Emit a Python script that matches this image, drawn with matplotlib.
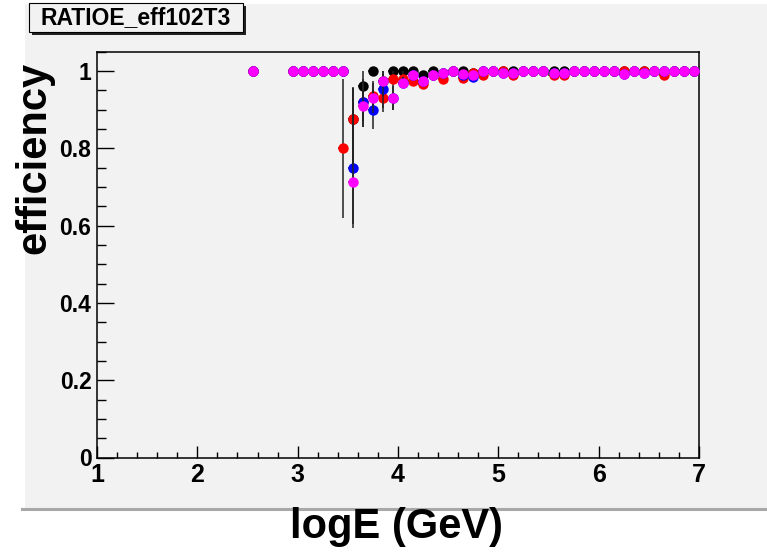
import matplotlib
matplotlib.use("Agg")
import matplotlib.pyplot as plt
from matplotlib.patches import Rectangle
from matplotlib.lines import Line2D
from matplotlib.ticker import MultipleLocator

# bin centres in logE (GeV)
x = [2.55, 2.95, 3.05, 3.15, 3.25, 3.35, 3.45, 3.55, 3.65, 3.75, 3.85,
     3.95, 4.05, 4.15, 4.25, 4.35, 4.45, 4.55, 4.65, 4.75, 4.85, 4.95,
     5.05, 5.15, 5.25, 5.35, 5.45, 5.55, 5.65, 5.75, 5.85, 5.95, 6.05,
     6.15, 6.25, 6.35, 6.45, 6.55, 6.65, 6.75, 6.85, 6.95]

eff_black = [1, 1, 1, 1, 1, 1, 1, 0.875, 0.96, 1.0, 0.975,
             1.0, 1.0, 1.0, 0.99, 1.0, 0.995, 1, 1, 0.995, 1, 1,
             1, 1, 1, 1, 1, 1, 1, 1, 1, 1, 1,
             1, 1, 1, 1, 1, 1, 1, 1, 1]
eff_red = [1, 1, 1, 1, 1, 1, 0.80, 0.875, 0.92, 0.935, 0.93,
           0.98, 0.98, 0.975, 0.967, 0.99, 0.978, 1, 0.983, 0.995, 0.99, 1,
           1, 0.99, 1, 1, 1, 0.99, 0.99, 1, 1, 1, 1,
           1, 1, 1, 1, 1, 0.99, 1, 1, 1]
eff_blue = [1, 1, 1, 1, 1, 1, 1, 0.75, 0.92, 0.90, 0.953,
            0.93, 0.97, 0.99, 0.974, 0.99, 0.995, 1, 0.99, 0.985, 1, 1,
            0.995, 0.995, 1, 1, 1, 0.995, 0.995, 1, 1, 1, 1,
            1, 0.991, 1, 0.995, 1, 1, 1, 1, 1]
eff_magenta = [1, 1, 1, 1, 1, 1, 1, 0.714, 0.91, 0.93, 0.975,
               0.93, 0.97, 0.99, 0.974, 0.99, 0.995, 1, 0.991, 0.99, 1, 1,
               0.995, 0.995, 1, 1, 1, 0.995, 0.995, 1, 1, 1, 1,
               1, 0.991, 1, 0.995, 1, 1, 1, 1, 1]

# asymmetric errors (low, high); only the visible ones are non-zero
n = len(x)
err_black = ([0]*7 + [0.12, 0.06, 0, 0.03, 0, 0] + [0]*(n-13),
             [0]*7 + [0.08, 0.04, 0, 0.025, 0, 0] + [0]*(n-13))
err_red = ([0]*6 + [0.18, 0.12, 0.066, 0.04, 0.037, 0.02, 0.024] + [0]*(n-13),
           [0]*6 + [0.18, 0.08, 0.06, 0.04, 0.04, 0.02, 0.02] + [0]*(n-13))
err_blue = ([0]*7 + [0.156, 0.05, 0.05, 0.05, 0.03, 0.014] + [0]*(n-13),
            [0]*7 + [0.208, 0.05, 0.05, 0.04, 0.03, 0.014] + [0]*(n-13))
err_magenta = ([0]*7 + [0.11, 0.055, 0.04, 0.04, 0.031, 0.014] + [0]*(n-13),
               [0]*7 + [0.2, 0.06, 0.04, 0.025, 0.03, 0.014] + [0]*(n-13))

series = [(eff_black, err_black, "#000000"),
          (eff_red, err_red, "#ff0000"),
          (eff_blue, err_blue, "#0000ff"),
          (eff_magenta, err_magenta, "#ff00ff")]

W, H = 767, 553
PAD = "#f2f2f2"
plt.rcParams["font.family"] = ["Liberation Sans", "DejaVu Sans"]

fig = plt.figure(figsize=(W/100, H/100), dpi=100)
fig.patch.set_facecolor("white")

# canvas pad + bottom bevel
fig.patches.append(Rectangle((25/W, 1-507.5/H), 1-25/W, (507.5-3.5)/H,
                             transform=fig.transFigure, fc=PAD, ec="none",
                             zorder=-2))
fig.lines.append(Line2D([22/W, 1], [1-509/H, 1-509/H], color="#a8a8a8",
                        lw=2.2, transform=fig.transFigure, zorder=-1))

ax = fig.add_axes([97/W, 1-457.5/H, (699-97)/W, (457.5-51.5)/H])
ax.set_zorder(2)
ax.set_facecolor(PAD)
for i, (ys, (lo, hi), col) in enumerate(series):
    ax.errorbar(x, ys, yerr=[lo, hi], xerr=0.05, fmt="o", color=col,
                ms=7.5, mec="none", ecolor="#222222", elinewidth=1.1,
                capsize=0, zorder=3+i, clip_on=False)

ax.set_xlim(1, 7)
ax.set_ylim(0, 1.0504)
ax.set_xticks([1, 2, 3, 4, 5, 6, 7])
ax.xaxis.set_minor_locator(MultipleLocator(0.2))
ax.set_yticks([0, 0.2, 0.4, 0.6, 0.8, 1.0])
ax.yaxis.set_minor_locator(MultipleLocator(0.05))
ax.set_yticklabels(["0", "0.2", "0.4", "0.6", "0.8", "1"])
ax.tick_params(axis="x", which="major", direction="in", length=8.6,
               width=1, pad=4, labelsize=18)
ax.tick_params(axis="x", which="minor", direction="in", length=4.3, width=1)
ax.tick_params(axis="y", which="major", direction="in", length=12.2,
               width=1, pad=4, labelsize=16.5)
ax.tick_params(axis="y", which="minor", direction="in", length=6.5, width=1)
for lab in ax.get_xticklabels() + ax.get_yticklabels():
    lab.set_fontweight("bold")
for s in ax.spines.values():
    s.set_linewidth(1.1)

fig.text(397/W, 1-527/H, "logE (GeV)", ha="center", va="center",
         fontsize=30, fontweight="bold")
fig.text(34/W, 1-158/H, "efficiency", ha="center", va="center",
         rotation=90, fontsize=30, fontweight="bold")

# title box with shadow
fig.patches.append(Rectangle((32/W, 1-35/H), 214/W, 29/H,
                             transform=fig.transFigure, fc="#222222",
                             ec="none", zorder=5))
fig.patches.append(Rectangle((29/W, 1-32/H), 214/W, 29/H,
                             transform=fig.transFigure, fc=PAD,
                             ec="black", lw=0.8, zorder=6))
fig.text(136/W, 1-18/H, "RATIOE_eff102T3", ha="center", va="center",
         fontsize=16.5, fontweight="bold", zorder=7)

fig.savefig("out.png", dpi=100)
